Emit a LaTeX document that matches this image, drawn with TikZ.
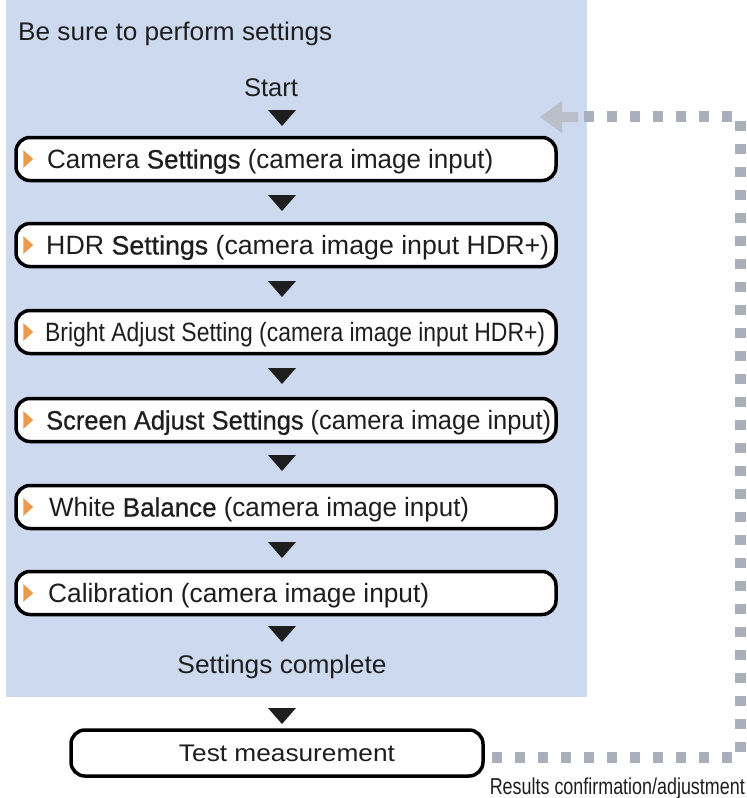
\documentclass[tikz,border=0pt]{standalone}
\usepackage{fontspec}
\setmainfont{Liberation Sans}
\newfontfamily\semib[FakeBold=0.6]{Liberation Sans}
\usepackage{graphicx}
\definecolor{bgblue}{HTML}{CDD9EE}
\definecolor{dashgray}{HTML}{A9AFBB}
\definecolor{arrowgray}{HTML}{B9C0CA}
\definecolor{orangeC}{HTML}{E99A4C}
\definecolor{txt}{HTML}{1E1E1E}
\newcommand{\wfit}[2]{\resizebox{#1pt}{\height}{#2}}
\begin{document}
\begin{tikzpicture}[x=1pt,y=-1pt,
  stepbox/.style={draw=black, fill=white, line width=3.5pt, rounded corners=14pt,
    minimum width=540pt, minimum height=43pt, inner sep=0pt},
  lbl/.style={text=txt, inner sep=0pt, font=\fontsize{26.5}{30}\selectfont},
  plain/.style={text=txt, inner sep=0pt, font=\fontsize{25.5}{29}\selectfont},
  dashsq/.style={draw=dashgray, line width=11pt, dash pattern=on 10pt off 13pt},
]
\useasboundingbox (0,0) rectangle (747,798);
\fill[bgblue] (6,0) rectangle (587,697);

\node[plain, anchor=base west] (hdr) at (18,40) {\wfit{314}{Be sure to perform settings}};
\node[plain, anchor=base] (start) at (271,96) {\wfit{54}{Start}};

\foreach \n/\y in {b1/159, b2/245, b3/332, b4/420, b5/507, b6/593}{
  \node[stepbox] (\n) at (286,\y) {};
  \fill[orangeC] ([xshift=9pt,yshift=9pt]\n.west) -- ++(10pt,-9pt) -- ++(-10pt,-9pt) -- cycle;
}
\node[lbl, anchor=base west] (t1) at (47,168.5) {\wfit{446}{Camera {\semib Settings} (camera image input)}};
\node[lbl, anchor=base west] (t2) at (46,254.5) {\wfit{503}{HDR {\semib Settings} (camera image input HDR+)}};
\node[lbl, anchor=base west] (t3) at (45,341.5) {\wfit{500}{Bright Adjust Setting (camera image input HDR+)}};
\node[lbl, anchor=base west] (t4) at (46,429.5) {\wfit{505}{{\semib Screen Adjust Settings} (camera image input)}};
\node[lbl, anchor=base west] (t5) at (49,516.5) {\wfit{420}{White {\semib Balance} (camera image input)}};
\node[lbl, anchor=base west] (t6) at (48,602.5) {\wfit{381}{Calibration (camera image input)}};

\node[plain, anchor=base] (done) at (282,673) {\wfit{209}{Settings complete}};

\node[stepbox, minimum width=412pt, minimum height=46pt] (tm) at (277,753) {};
\node[plain, font=\fontsize{24}{28}\selectfont, anchor=base] (tmt) at (287,761) {\wfit{216}{Test measurement}};

\foreach \y in {118, 203, 289, 376, 463, 550, 634, 716}{
  \fill[txt] (268,\y-8) -- (296,\y-8) -- (282,\y+8) -- cycle;
}

\coordinate (d0) at (492,757);
\coordinate (d1) at (740,757);
\coordinate (d2) at (740,116);
\coordinate (d3) at (584,116);
\draw[dashsq] (d0) -- (d1) -- (d2) -- (d3);
\fill[arrowgray] (540,117) -- (562,101) -- (562,112) -- (578,112) -- (578,122) -- (562,122) -- (562,133) -- cycle;

\node[text=txt, inner sep=0pt, anchor=base east, font=\fontsize{23}{26}\selectfont] (res) at (745,794)
  {\wfit{255}{Results confirmation/adjustment}};
\end{tikzpicture}
\end{document}
